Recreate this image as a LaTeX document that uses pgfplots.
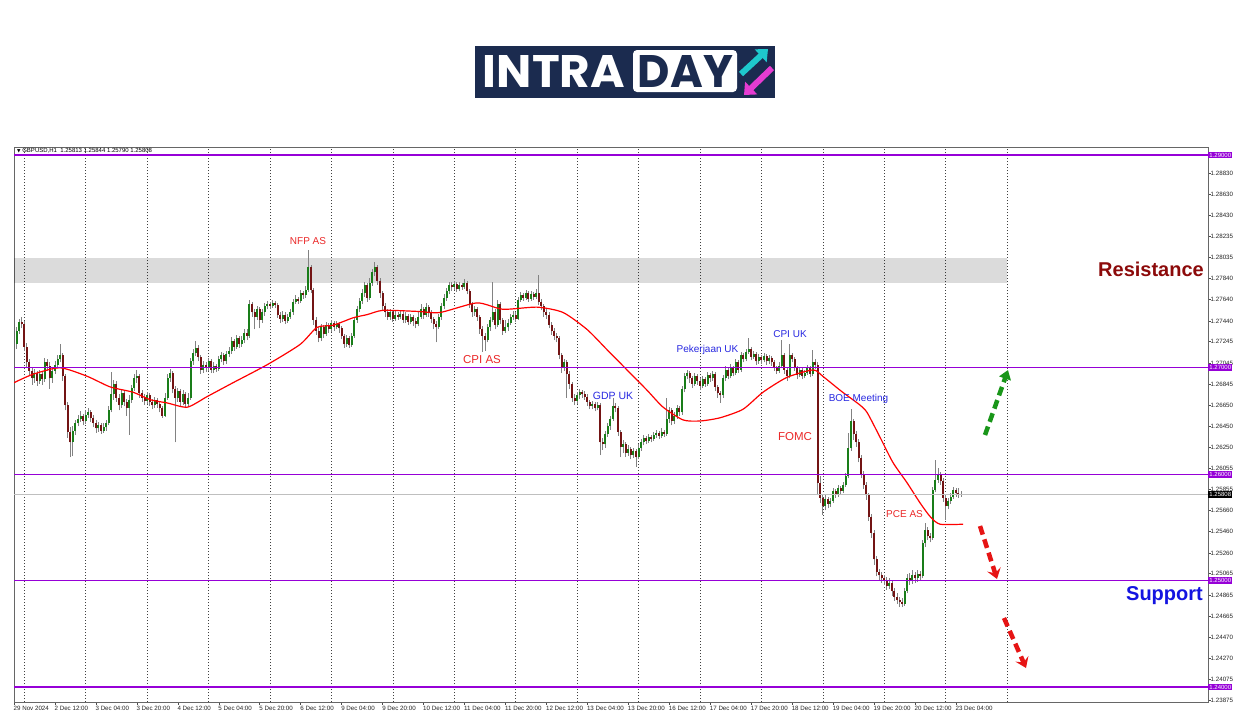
\documentclass[border=0pt]{standalone}
\usepackage{fontspec}
\setmainfont{Liberation Sans}
\newfontfamily\dejavu{DejaVu Sans}
\newfontfamily\logofont{Poppins}
\usepackage{graphicx}
\usepackage{pgfplots}
\pgfplotsset{compat=1.18}
\usepackage{pgfplotstable}
\usetikzlibrary{arrows.meta}
\definecolor{upc}{RGB}{25,125,25}
\definecolor{dnc}{RGB}{115,20,20}
\definecolor{wickc}{RGB}{130,130,130}
\definecolor{vio}{RGB}{150,0,215}
\definecolor{navy}{RGB}{27,43,79}
\definecolor{annred}{RGB}{235,40,40}
\definecolor{annblue}{RGB}{40,40,225}
\definecolor{resred}{RGB}{140,10,10}
\definecolor{supblue}{RGB}{20,20,225}
\definecolor{arrgreen}{RGB}{25,150,25}
\definecolor{arrred}{RGB}{230,20,20}
\definecolor{logocyan}{RGB}{30,200,205}
\definecolor{logomag}{RGB}{230,60,210}

\pgfplotstableread{
i o h l c
1 1.2722 1.2738 1.2718 1.2735
2 1.2735 1.2746 1.2732 1.2743
3 1.2743 1.2748 1.2737 1.2741
4 1.2741 1.2744 1.2716 1.2720
5 1.2720 1.2723 1.2700 1.2705
6 1.2705 1.2708 1.2693 1.2697
7 1.2697 1.2700 1.2684 1.2690
8 1.2690 1.2699 1.2686 1.2695
9 1.2695 1.2697 1.2683 1.2688
10 1.2688 1.2698 1.2685 1.2694
11 1.2694 1.2697 1.2684 1.2689
12 1.2689 1.2709 1.2687 1.2705
13 1.2705 1.2708 1.2697 1.2702
14 1.2702 1.2705 1.2680 1.2690
15 1.2690 1.2700 1.2686 1.2697
16 1.2697 1.2706 1.2694 1.2703
17 1.2703 1.2712 1.2700 1.2708
18 1.2708 1.2722 1.2705 1.2712
19 1.2712 1.2714 1.2688 1.2692
20 1.2692 1.2694 1.2660 1.2665
21 1.2665 1.2668 1.2634 1.2640
22 1.2640 1.2644 1.2616 1.2630
23 1.2630 1.2645 1.2617 1.2641
24 1.2641 1.2651 1.2637 1.2648
25 1.2648 1.2656 1.2645 1.2652
26 1.2652 1.2659 1.2649 1.2655
27 1.2655 1.2657 1.2646 1.2650
28 1.2650 1.2660 1.2647 1.2656
29 1.2656 1.2662 1.2653 1.2658
30 1.2658 1.2660 1.2649 1.2653
31 1.2653 1.2656 1.2644 1.2648
32 1.2648 1.2651 1.2639 1.2643
33 1.2643 1.2649 1.2640 1.2646
34 1.2646 1.2648 1.2638 1.2641
35 1.2641 1.2648 1.2639 1.2644
36 1.2644 1.2651 1.2641 1.2648
37 1.2648 1.2664 1.2646 1.2660
38 1.2660 1.2696 1.2658 1.2675
39 1.2675 1.2689 1.2670 1.2685
40 1.2685 1.2688 1.2668 1.2672
41 1.2672 1.2675 1.2660 1.2665
42 1.2665 1.2680 1.2662 1.2676
43 1.2676 1.2679 1.2664 1.2668
44 1.2668 1.2671 1.2655 1.2662
45 1.2662 1.2674 1.2637 1.2670
46 1.2670 1.2684 1.2667 1.2681
47 1.2681 1.2694 1.2678 1.2690
48 1.2690 1.2698 1.2686 1.2692
49 1.2692 1.2694 1.2672 1.2676
50 1.2676 1.2679 1.2668 1.2672
51 1.2672 1.2675 1.2665 1.2669
52 1.2669 1.2677 1.2666 1.2674
53 1.2674 1.2676 1.2664 1.2668
54 1.2668 1.2671 1.2661 1.2665
55 1.2665 1.2673 1.2662 1.2670
56 1.2670 1.2672 1.2662 1.2666
57 1.2666 1.2668 1.2658 1.2662
58 1.2662 1.2664 1.2653 1.2655
59 1.2655 1.2676 1.2654 1.2672
60 1.2672 1.2694 1.2670 1.2690
61 1.2690 1.2699 1.2687 1.2695
62 1.2695 1.2697 1.2676 1.2680
63 1.2680 1.2683 1.2630 1.2672
64 1.2672 1.2681 1.2668 1.2678
65 1.2678 1.2680 1.2664 1.2668
66 1.2668 1.2679 1.2665 1.2675
67 1.2675 1.2677 1.2662 1.2666
68 1.2666 1.2676 1.2663 1.2672
69 1.2672 1.2709 1.2670 1.2706
70 1.2706 1.2718 1.2703 1.2714
71 1.2714 1.2725 1.2711 1.2719
72 1.2719 1.2721 1.2706 1.2710
73 1.2710 1.2712 1.2694 1.2698
74 1.2698 1.2706 1.2695 1.2703
75 1.2703 1.2705 1.2696 1.2700
76 1.2700 1.2709 1.2697 1.2706
77 1.2706 1.2708 1.2695 1.2698
78 1.2698 1.2705 1.2695 1.2702
79 1.2702 1.2704 1.2696 1.2699
80 1.2699 1.2711 1.2697 1.2708
81 1.2708 1.2715 1.2705 1.2712
82 1.2712 1.2714 1.2703 1.2706
83 1.2706 1.2716 1.2704 1.2713
84 1.2713 1.2720 1.2710 1.2716
85 1.2716 1.2729 1.2713 1.2725
86 1.2725 1.2727 1.2716 1.2720
87 1.2720 1.2731 1.2718 1.2728
88 1.2728 1.2730 1.2719 1.2722
89 1.2722 1.2730 1.2720 1.2726
90 1.2726 1.2736 1.2723 1.2733
91 1.2733 1.2736 1.2726 1.2730
92 1.2730 1.2764 1.2728 1.2760
93 1.2760 1.2762 1.2748 1.2752
94 1.2752 1.2755 1.2736 1.2748
95 1.2748 1.2758 1.2745 1.2755
96 1.2755 1.2757 1.2737 1.2745
97 1.2745 1.2755 1.2742 1.2752
98 1.2752 1.2761 1.2749 1.2758
99 1.2758 1.2763 1.2755 1.2760
100 1.2760 1.2762 1.2755 1.2758
101 1.2758 1.2764 1.2756 1.2761
102 1.2761 1.2763 1.2756 1.2759
103 1.2759 1.2761 1.2747 1.2750
104 1.2750 1.2752 1.2742 1.2746
105 1.2746 1.2753 1.2743 1.2750
106 1.2750 1.2752 1.2741 1.2744
107 1.2744 1.2751 1.2742 1.2748
108 1.2748 1.2755 1.2746 1.2752
109 1.2752 1.2765 1.2750 1.2762
110 1.2762 1.2768 1.2760 1.2765
111 1.2765 1.2767 1.2760 1.2763
112 1.2763 1.2773 1.2761 1.2770
113 1.2770 1.2772 1.2765 1.2768
114 1.2768 1.2777 1.2766 1.2773
115 1.2773 1.2811 1.2771 1.2795
116 1.2795 1.2797 1.2770 1.2773
117 1.2773 1.2775 1.2740 1.2745
118 1.2745 1.2748 1.2731 1.2735
119 1.2735 1.2738 1.2724 1.2728
120 1.2728 1.2741 1.2725 1.2738
121 1.2738 1.2740 1.2728 1.2732
122 1.2732 1.2743 1.2730 1.2740
123 1.2740 1.2742 1.2733 1.2736
124 1.2736 1.2745 1.2734 1.2742
125 1.2742 1.2744 1.2735 1.2738
126 1.2738 1.2744 1.2736 1.2741
127 1.2741 1.2743 1.2733 1.2737
128 1.2737 1.2739 1.2727 1.2730
129 1.2730 1.2732 1.2719 1.2722
130 1.2722 1.2731 1.2720 1.2728
131 1.2728 1.2730 1.2719 1.2721
132 1.2721 1.2733 1.2720 1.2730
133 1.2730 1.2748 1.2728 1.2745
134 1.2745 1.2758 1.2742 1.2755
135 1.2755 1.2766 1.2752 1.2763
136 1.2763 1.2774 1.2760 1.2770
137 1.2770 1.2781 1.2767 1.2778
138 1.2778 1.2780 1.2762 1.2766
139 1.2766 1.2784 1.2764 1.2780
140 1.2780 1.2793 1.2777 1.2790
141 1.2790 1.2799 1.2786 1.2795
142 1.2795 1.2797 1.2778 1.2782
143 1.2782 1.2784 1.2766 1.2770
144 1.2770 1.2772 1.2754 1.2758
145 1.2758 1.2761 1.2748 1.2752
146 1.2752 1.2755 1.2745 1.2748
147 1.2748 1.2755 1.2745 1.2752
148 1.2752 1.2754 1.2743 1.2746
149 1.2746 1.2753 1.2744 1.2750
150 1.2750 1.2752 1.2745 1.2748
151 1.2748 1.2754 1.2746 1.2751
152 1.2751 1.2753 1.2742 1.2745
153 1.2745 1.2752 1.2742 1.2749
154 1.2749 1.2751 1.2740 1.2743
155 1.2743 1.2751 1.2741 1.2748
156 1.2748 1.2750 1.2739 1.2744
157 1.2744 1.2747 1.2737 1.2741
158 1.2741 1.2752 1.2739 1.2748
159 1.2748 1.2760 1.2746 1.2755
160 1.2755 1.2757 1.2746 1.2750
161 1.2750 1.2761 1.2748 1.2757
162 1.2757 1.2759 1.2748 1.2752
163 1.2752 1.2754 1.2742 1.2746
164 1.2746 1.2748 1.2736 1.2741
165 1.2741 1.2744 1.2724 1.2738
166 1.2738 1.2751 1.2736 1.2748
167 1.2748 1.2761 1.2745 1.2758
168 1.2758 1.2769 1.2755 1.2766
169 1.2766 1.2775 1.2763 1.2772
170 1.2772 1.2781 1.2769 1.2778
171 1.2778 1.2781 1.2772 1.2776
172 1.2776 1.2782 1.2773 1.2779
173 1.2779 1.2781 1.2771 1.2774
174 1.2774 1.2781 1.2772 1.2778
175 1.2778 1.2780 1.2773 1.2776
176 1.2776 1.2783 1.2774 1.2780
177 1.2780 1.2782 1.2769 1.2772
178 1.2772 1.2774 1.2756 1.2760
179 1.2760 1.2762 1.2748 1.2752
180 1.2752 1.2758 1.2749 1.2755
181 1.2755 1.2757 1.2744 1.2748
182 1.2748 1.2750 1.2732 1.2736
183 1.2736 1.2739 1.2715 1.2730
184 1.2730 1.2733 1.2716 1.2726
185 1.2726 1.2741 1.2724 1.2738
186 1.2738 1.2748 1.2735 1.2745
187 1.2745 1.2781 1.2743 1.2752
188 1.2752 1.2755 1.2736 1.2740
189 1.2740 1.2764 1.2738 1.2760
190 1.2760 1.2762 1.2741 1.2745
191 1.2745 1.2747 1.2731 1.2735
192 1.2735 1.2745 1.2733 1.2738
193 1.2738 1.2746 1.2735 1.2742
194 1.2742 1.2751 1.2740 1.2748
195 1.2748 1.2753 1.2745 1.2750
196 1.2750 1.2752 1.2743 1.2746
197 1.2746 1.2767 1.2745 1.2764
198 1.2764 1.2771 1.2762 1.2768
199 1.2768 1.2770 1.2763 1.2766
200 1.2766 1.2773 1.2764 1.2770
201 1.2770 1.2772 1.2762 1.2765
202 1.2765 1.2772 1.2763 1.2769
203 1.2769 1.2771 1.2764 1.2767
204 1.2767 1.2774 1.2765 1.2770
205 1.2770 1.2787 1.2759 1.2762
206 1.2762 1.2765 1.2754 1.2758
207 1.2758 1.2760 1.2748 1.2752
208 1.2752 1.2755 1.2746 1.2750
209 1.2750 1.2752 1.2737 1.2740
210 1.2740 1.2743 1.2731 1.2735
211 1.2735 1.2737 1.2726 1.2730
212 1.2730 1.2733 1.2724 1.2728
213 1.2728 1.2730 1.2708 1.2712
214 1.2712 1.2714 1.2695 1.2700
215 1.2700 1.2708 1.2697 1.2705
216 1.2705 1.2707 1.2672 1.2694
217 1.2694 1.2697 1.2680 1.2685
218 1.2685 1.2687 1.2668 1.2672
219 1.2672 1.2675 1.2665 1.2669
220 1.2669 1.2677 1.2666 1.2674
221 1.2674 1.2680 1.2671 1.2677
222 1.2677 1.2679 1.2672 1.2675
223 1.2675 1.2678 1.2670 1.2673
224 1.2673 1.2675 1.2664 1.2668
225 1.2668 1.2670 1.2661 1.2664
226 1.2664 1.2669 1.2661 1.2666
227 1.2666 1.2668 1.2659 1.2662
228 1.2662 1.2668 1.2660 1.2665
229 1.2665 1.2667 1.2618 1.2630
230 1.2630 1.2634 1.2623 1.2628
231 1.2628 1.2641 1.2625 1.2638
232 1.2638 1.2648 1.2635 1.2645
233 1.2645 1.2655 1.2642 1.2652
234 1.2652 1.2672 1.2650 1.2664
235 1.2664 1.2667 1.2658 1.2662
236 1.2662 1.2664 1.2636 1.2640
237 1.2640 1.2642 1.2616 1.2626
238 1.2626 1.2632 1.2620 1.2628
239 1.2628 1.2630 1.2616 1.2620
240 1.2620 1.2627 1.2617 1.2624
241 1.2624 1.2626 1.2614 1.2618
242 1.2618 1.2625 1.2615 1.2622
243 1.2622 1.2624 1.2607 1.2616
244 1.2616 1.2628 1.2614 1.2625
245 1.2625 1.2633 1.2622 1.2630
246 1.2630 1.2637 1.2627 1.2634
247 1.2634 1.2636 1.2628 1.2631
248 1.2631 1.2638 1.2629 1.2635
249 1.2635 1.2637 1.2630 1.2633
250 1.2633 1.2640 1.2631 1.2637
251 1.2637 1.2642 1.2634 1.2639
252 1.2639 1.2641 1.2633 1.2636
253 1.2636 1.2643 1.2634 1.2640
254 1.2640 1.2642 1.2635 1.2638
255 1.2638 1.2672 1.2636 1.2652
256 1.2652 1.2663 1.2648 1.2660
257 1.2660 1.2662 1.2646 1.2650
258 1.2650 1.2658 1.2647 1.2655
259 1.2655 1.2665 1.2652 1.2662
260 1.2662 1.2664 1.2655 1.2658
261 1.2658 1.2683 1.2656 1.2680
262 1.2680 1.2695 1.2677 1.2692
263 1.2692 1.2698 1.2689 1.2695
264 1.2695 1.2697 1.2686 1.2690
265 1.2690 1.2692 1.2681 1.2685
266 1.2685 1.2695 1.2683 1.2692
267 1.2692 1.2694 1.2684 1.2688
268 1.2688 1.2690 1.2679 1.2683
269 1.2683 1.2692 1.2681 1.2689
270 1.2689 1.2691 1.2682 1.2685
271 1.2685 1.2696 1.2683 1.2693
272 1.2693 1.2695 1.2687 1.2690
273 1.2690 1.2697 1.2688 1.2694
274 1.2694 1.2696 1.2678 1.2682
275 1.2682 1.2684 1.2672 1.2676
276 1.2676 1.2678 1.2667 1.2674
277 1.2674 1.2693 1.2672 1.2690
278 1.2690 1.2702 1.2688 1.2698
279 1.2698 1.2700 1.2689 1.2692
280 1.2692 1.2704 1.2690 1.2700
281 1.2700 1.2702 1.2692 1.2695
282 1.2695 1.2708 1.2693 1.2705
283 1.2705 1.2707 1.2695 1.2698
284 1.2698 1.2715 1.2696 1.2712
285 1.2712 1.2714 1.2705 1.2708
286 1.2708 1.2718 1.2706 1.2715
287 1.2715 1.2728 1.2713 1.2718
288 1.2718 1.2720 1.2707 1.2710
289 1.2710 1.2716 1.2708 1.2713
290 1.2713 1.2715 1.2703 1.2706
291 1.2706 1.2713 1.2704 1.2710
292 1.2710 1.2712 1.2704 1.2707
293 1.2707 1.2714 1.2705 1.2711
294 1.2711 1.2713 1.2703 1.2706
295 1.2706 1.2712 1.2704 1.2709
296 1.2709 1.2711 1.2702 1.2705
297 1.2705 1.2707 1.2697 1.2700
298 1.2700 1.2702 1.2694 1.2697
299 1.2697 1.2705 1.2695 1.2702
300 1.2702 1.2726 1.2700 1.2712
301 1.2712 1.2714 1.2694 1.2698
302 1.2698 1.2700 1.2688 1.2692
303 1.2692 1.2722 1.2690 1.2712
304 1.2712 1.2714 1.2705 1.2708
305 1.2708 1.2710 1.2697 1.2700
306 1.2700 1.2702 1.2689 1.2693
307 1.2693 1.2701 1.2691 1.2698
308 1.2698 1.2700 1.2689 1.2692
309 1.2692 1.2698 1.2690 1.2695
310 1.2695 1.2703 1.2693 1.2700
311 1.2700 1.2702 1.2691 1.2694
312 1.2694 1.2717 1.2692 1.2705
313 1.2705 1.2708 1.2699 1.2703
314 1.2703 1.2705 1.2580 1.2592
315 1.2592 1.2598 1.2573 1.2578
316 1.2578 1.2581 1.2562 1.2570
317 1.2570 1.2580 1.2566 1.2577
318 1.2577 1.2579 1.2568 1.2572
319 1.2572 1.2578 1.2569 1.2575
320 1.2575 1.2587 1.2573 1.2584
321 1.2584 1.2586 1.2578 1.2581
322 1.2581 1.2590 1.2579 1.2587
323 1.2587 1.2589 1.2581 1.2584
324 1.2584 1.2593 1.2582 1.2590
325 1.2590 1.2601 1.2588 1.2598
326 1.2598 1.2639 1.2596 1.2625
327 1.2625 1.2661 1.2622 1.2650
328 1.2650 1.2652 1.2632 1.2638
329 1.2638 1.2641 1.2626 1.2630
330 1.2630 1.2633 1.2611 1.2615
331 1.2615 1.2618 1.2596 1.2600
332 1.2600 1.2603 1.2586 1.2590
333 1.2590 1.2593 1.2576 1.2580
334 1.2580 1.2582 1.2556 1.2560
335 1.2560 1.2563 1.2540 1.2545
336 1.2545 1.2548 1.2515 1.2520
337 1.2520 1.2523 1.2504 1.2508
338 1.2508 1.2511 1.2501 1.2505
339 1.2505 1.2508 1.2498 1.2502
340 1.2502 1.2505 1.2496 1.2500
341 1.2500 1.2503 1.2491 1.2495
342 1.2495 1.2502 1.2492 1.2498
343 1.2498 1.2500 1.2486 1.2490
344 1.2490 1.2493 1.2481 1.2485
345 1.2485 1.2488 1.2478 1.2482
346 1.2482 1.2485 1.2475 1.2480
347 1.2480 1.2484 1.2475 1.2478
348 1.2478 1.2493 1.2476 1.2490
349 1.2490 1.2506 1.2488 1.2502
350 1.2502 1.2507 1.2496 1.2500
351 1.2500 1.2510 1.2497 1.2505
352 1.2505 1.2508 1.2498 1.2502
353 1.2502 1.2510 1.2499 1.2506
354 1.2506 1.2509 1.2500 1.2504
355 1.2504 1.2538 1.2502 1.2535
356 1.2535 1.2554 1.2532 1.2548
357 1.2548 1.2550 1.2538 1.2542
358 1.2542 1.2545 1.2536 1.2540
359 1.2540 1.2588 1.2538 1.2585
360 1.2585 1.2613 1.2583 1.2595
361 1.2595 1.2606 1.2592 1.2600
362 1.2600 1.2602 1.2590 1.2594
363 1.2594 1.2596 1.2574 1.2578
364 1.2578 1.2580 1.2557 1.2570
365 1.2570 1.2578 1.2567 1.2575
366 1.2575 1.2582 1.2572 1.2579
367 1.2579 1.2588 1.2577 1.2585
368 1.2585 1.2587 1.2579 1.2582
369 1.2582 1.2587 1.2578 1.25813
370 1.25813 1.25844 1.25790 1.25808
}\candles

\pgfplotstableread{
i ma
0 1.2686
7.5 1.2694
18 1.2700
28.6 1.2692
37.6 1.2682
46.6 1.2677
53.2 1.2670
59.8 1.2667
67.7 1.2663
75.5 1.2673
85.6 1.2686
99 1.2703
111.8 1.2722
118.4 1.2738
124.7 1.2740
132.5 1.2747
138 1.2750
144.2 1.2754
157.5 1.2753
166.5 1.2752
180.9 1.2761
191 1.2755
204.4 1.2757
214.5 1.2752
223.9 1.2736
231.7 1.2717
239.5 1.2698
247.3 1.2679
253.6 1.2663
261.4 1.2651
268 1.2650
275.8 1.2653
284.8 1.2661
292.6 1.2677
302 1.2691
312.2 1.2698
316 1.2692
322.7 1.2679
326.6 1.2672
330.5 1.2665
333.3 1.2658
338.3 1.2635
343.4 1.2611
348.9 1.2592
354 1.2573
358 1.2560
361.8 1.2553
370.8 1.2553
}\matable

\begin{document}
\begin{tikzpicture}
\fill[white] (0,0) rectangle (1250pt,-716pt);
\begin{axis}[
  at={(14pt,-702pt)}, anchor=south west, scale only axis,
  width=1194pt, height=555pt,
  xmin=0, xmax=466.5, ymin=1.23859, ymax=1.29075,
  axis line style={draw=black!60, line width=0.7pt},
  tick style={black!70, line width=0.5pt},
  tick align=outside, major tick length=2.5pt,
  xtick pos=bottom, ytick pos=right, yticklabel pos=right,
  xtick={0,16,...,368},
  xticklabels={29 Nov 2024, 2 Dec 12:00, 3 Dec 04:00, 3 Dec 20:00, 4 Dec 12:00, 5 Dec 04:00, 5 Dec 20:00, 6 Dec 12:00, 9 Dec 04:00, 9 Dec 20:00, 10 Dec 12:00, 11 Dec 04:00, 11 Dec 20:00, 12 Dec 12:00, 13 Dec 04:00, 13 Dec 20:00, 16 Dec 12:00, 17 Dec 04:00, 17 Dec 20:00, 18 Dec 12:00, 19 Dec 04:00, 19 Dec 20:00, 20 Dec 12:00, 23 Dec 04:00},
  xticklabel style={anchor=north west, font=\fontsize{6.2}{7}\selectfont, text=black!85, xshift=-1.5pt, yshift=-0.5pt, inner sep=1pt},
  ytick={1.28830,1.28630,1.28430,1.28235,1.28035,1.27840,1.27640,1.27440,1.27245,1.27045,1.26845,1.26650,1.26450,1.26250,1.26055,1.25855,1.25660,1.25460,1.25260,1.25065,1.24865,1.24665,1.24470,1.24270,1.24075,1.23875},
  yticklabels={1.28830,1.28630,1.28430,1.28235,1.28035,1.27840,1.27640,1.27440,1.27245,1.27045,1.26845,1.26650,1.26450,1.26250,1.26055,1.25855,1.25660,1.25460,1.25260,1.25065,1.24865,1.24665,1.24470,1.24270,1.24075,1.23875},
  yticklabel style={anchor=west, font=\fontsize{6.2}{7}\selectfont, text=black!85, xshift=-1pt, inner sep=1pt},
  extra x ticks={4,28,...,388},
  extra x tick labels={},
  extra x tick style={grid=major, major tick length=0pt},
  major grid style={black!75, dash pattern=on 1pt off 2pt, line width=0.6pt},
]
% resistance zone
\addplot[fill=black, fill opacity=0.14, draw=none, forget plot] coordinates {(0,1.2780) (388,1.2780) (388,1.2803) (0,1.2803)} --cycle;
% wicks
\addplot[draw=none, mark=none, forget plot, error bars/.cd, y dir=plus, y explicit, error mark=none,
  error bar style={draw=wickc, line width=0.8pt, solid}]
  table[x=i, y=l, y error plus expr={\thisrow{h}-\thisrow{l}}] {\candles};
% up bodies
\addplot[draw=none, mark=none, forget plot, error bars/.cd, y dir=plus, y explicit, error mark=none,
  error bar style={draw=upc, line width=2pt, solid}]
  table[x=i, y expr={min(\thisrow{o},\thisrow{c})}, y error plus expr={max(\thisrow{c}-\thisrow{o},0)}] {\candles};
% down bodies
\addplot[draw=none, mark=none, forget plot, error bars/.cd, y dir=plus, y explicit, error mark=none,
  error bar style={draw=dnc, line width=2pt, solid}]
  table[x=i, y expr={min(\thisrow{o},\thisrow{c})}, y error plus expr={max(\thisrow{o}-\thisrow{c},0)}] {\candles};
% moving average
\addplot[red, line width=1.2pt, mark=none, smooth, tension=0.4] table[x=i, y=ma] {\matable};
% current price line
\addplot[black!25, line width=0.6pt, mark=none] coordinates {(0,1.25808) (466.5,1.25808)};
% horizontal levels
\addplot[vio, line width=1.1pt, mark=none] coordinates {(0,1.29) (466.5,1.29)};
\addplot[vio, line width=1.1pt, mark=none] coordinates {(0,1.27) (466.5,1.27)};
\addplot[vio, line width=1.1pt, mark=none] coordinates {(0,1.26) (466.5,1.26)};
\addplot[vio, line width=1.1pt, mark=none] coordinates {(0,1.25) (466.5,1.25)};
\addplot[vio, line width=1.1pt, mark=none] coordinates {(0,1.24) (466.5,1.24)};
\end{axis}

% price boxes on the right
\tikzset{pbox/.style={anchor=west, fill=vio, text=white, font=\fontsize{6}{6.5}\selectfont, inner xsep=1.2pt, inner ysep=1.2pt}}
\node[pbox] at (1208pt,-155pt) {1.29000};
\node[pbox] at (1208pt,-367.8pt) {1.27000};
\node[pbox] at (1208pt,-474.2pt) {1.26000};
\node[pbox] at (1208pt,-580.6pt) {1.25000};
\node[pbox] at (1208pt,-687pt) {1.24000};
\node[pbox, fill=black] at (1208pt,-494.6pt) {1.25808};

% header
\node[anchor=west, font=\fontsize{6}{7}\selectfont, inner sep=0pt] at (17pt,-150.5pt) {{\dejavu\fontsize{4.5}{5}\selectfont ▼} GBPUSD,H1\ \ 1.25813 1.25844 1.25790 1.25808};

% event annotations
\node[text=annred, font=\fontsize{10}{12}\selectfont] at (308pt,-241pt) {NFP AS};
\node[text=annred, font=\fontsize{11.5}{13}\selectfont] at (482pt,-360pt) {CPI AS};
\node[text=annblue, font=\fontsize{10.5}{12}\selectfont] at (613pt,-396pt) {GDP UK};
\node[text=annblue, font=\fontsize{10}{12}\selectfont] at (707.5pt,-349.5pt) {Pekerjaan UK};
\node[text=annblue, font=\fontsize{10}{12}\selectfont] at (790pt,-334pt) {CPI UK};
\node[text=annblue, font=\fontsize{10}{12}\selectfont] at (858.5pt,-399pt) {BOE Meeting};
\node[text=annred, font=\fontsize{11.5}{13}\selectfont] at (795pt,-436.5pt) {FOMC};
\node[text=annred, font=\fontsize{10}{12}\selectfont] at (904.5pt,-514pt) {PCE AS};

\node[anchor=base east, text=resred, font=\bfseries\fontsize{20}{22}\selectfont, inner sep=0pt] at (1204pt,-276pt) {Resistance};
\node[anchor=base east, text=supblue, font=\bfseries\fontsize{20}{22}\selectfont, inner sep=0pt] at (1203pt,-600pt) {Support};

% dashed arrows
\draw[arrgreen, line width=4.5pt, dash pattern=on 9pt off 5pt, -{Triangle[length=9pt, width=12pt]}] (985pt,-435pt) -- (1008pt,-370pt);
\draw[arrred, line width=4.5pt, dash pattern=on 9pt off 5pt, -{Stealth[length=10pt, width=14pt, inset=4pt]}] (980pt,-526pt) -- (997pt,-579pt);
\draw[arrred, line width=4.5pt, dash pattern=on 9pt off 5pt, -{Stealth[length=10pt, width=14pt, inset=4pt]}] (1004pt,-618pt) -- (1026pt,-668pt);

% logo
\fill[navy] (475pt,-46pt) rectangle (775pt,-98pt);
\fill[white, rounded corners=4pt] (633pt,-50pt) rectangle (737pt,-92pt);
\node[inner sep=0pt] at (554pt,-71pt) {\resizebox{142pt}{32pt}{\color{white}\logofont\bfseries INTRA}};
\node[inner sep=0pt] at (685.5pt,-71pt) {\resizebox{95pt}{32pt}{\color{navy}\logofont\bfseries DAY}};
\draw[logocyan, line width=6pt, -{Triangle[length=10pt, width=17pt]}] (741pt,-74pt) -- (768pt,-49pt);
\draw[logomag, line width=6pt, -{Triangle[length=10pt, width=17pt]}] (772pt,-68pt) -- (744pt,-95pt);
\end{tikzpicture}
\end{document}
